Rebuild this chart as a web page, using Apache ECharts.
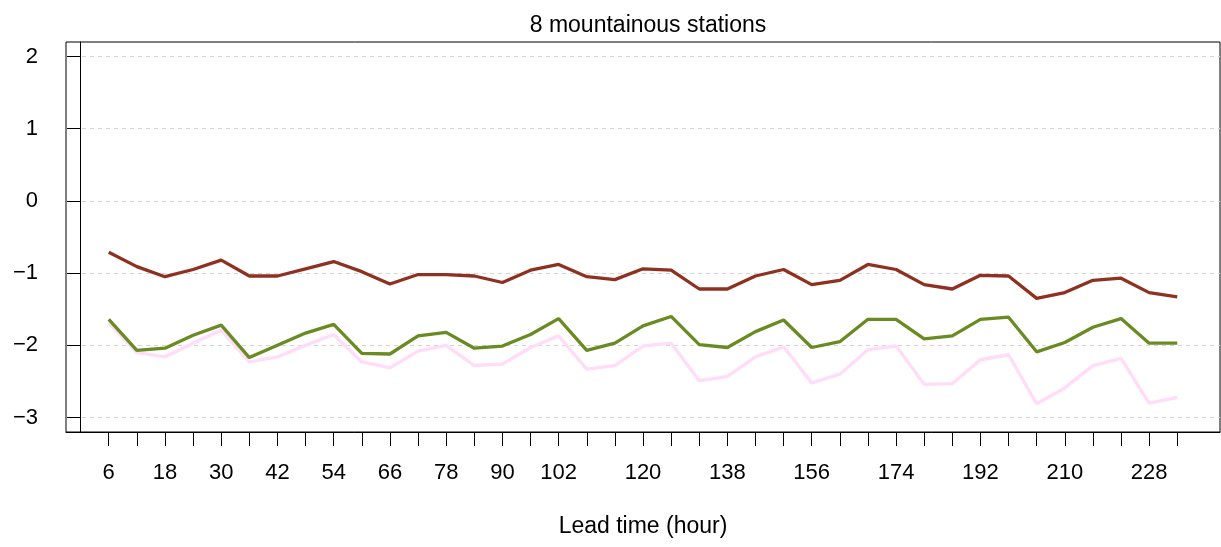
<!DOCTYPE html>
<html>
<head>
<meta charset="utf-8">
<script src="https://cdn.jsdelivr.net/npm/echarts@6/dist/echarts.min.js"></script>
<style>
html,body{margin:0;padding:0;background:#fff;}
#chart{width:1221px;height:547px;}
</style>
</head>
<body>
<div id="chart"></div>
<script>
const hours = [6,12,18,24,30,36,42,48,54,60,66,72,78,84,90,96,102,108,114,120,126,132,138,144,150,156,162,168,174,180,186,192,198,204,210,216,222,228,234];
const xTickLabels = [6,18,30,42,54,66,78,90,102,120,138,156,174,192,210,228];
const yTickLabels = [-3,-2,-1,0,1,2];
const redSeries = [-0.71,-0.91,-1.05,-0.95,-0.82,-1.04,-1.04,-0.94,-0.84,-0.98,-1.15,-1.02,-1.02,-1.04,-1.13,-0.96,-0.88,-1.05,-1.09,-0.94,-0.96,-1.22,-1.22,-1.04,-0.95,-1.16,-1.10,-0.88,-0.95,-1.16,-1.22,-1.03,-1.04,-1.35,-1.27,-1.10,-1.07,-1.27,-1.33];
const greenSeries = [-1.64,-2.07,-2.04,-1.86,-1.72,-2.17,-2.00,-1.83,-1.71,-2.11,-2.12,-1.87,-1.82,-2.04,-2.01,-1.85,-1.63,-2.07,-1.97,-1.73,-1.60,-1.99,-2.03,-1.81,-1.65,-2.03,-1.95,-1.64,-1.64,-1.91,-1.87,-1.64,-1.61,-2.09,-1.96,-1.75,-1.63,-1.97,-1.97];
const pinkSeries = [-1.69,-2.10,-2.16,-1.97,-1.79,-2.23,-2.16,-2.00,-1.85,-2.23,-2.31,-2.08,-2.00,-2.28,-2.26,-2.03,-1.87,-2.33,-2.28,-2.01,-1.97,-2.49,-2.43,-2.16,-2.02,-2.52,-2.40,-2.06,-2.01,-2.54,-2.53,-2.20,-2.13,-2.81,-2.59,-2.28,-2.18,-2.80,-2.72];

const FONT = 'Liberation Sans, Arial, Helvetica, sans-serif';
const pair = arr => hours.map((h, i) => [h, arr[i]]);
const fmtMinus = v => (v < 0 ? '\u2212' + Math.abs(v) : String(v));

const chart = echarts.init(document.getElementById('chart'), null, {renderer: 'canvas'});
chart.setOption({
  animation: false,
  backgroundColor: '#ffffff',
  title: {
    text: '8 mountainous stations',
    left: 643, top: 9, textAlign: 'center',
    textStyle: {fontFamily: FONT, fontSize: 23, fontWeight: 'normal', color: '#000'}
  },
  grid: {
    left: 66, right: 1, top: 42, bottom: 115,
    show: true, borderColor: '#000', borderWidth: 1, backgroundColor: 'transparent'
  },
  xAxis: {
    type: 'value',
    min: -3.12, max: 243.12,
    name: 'Lead time (hour)',
    nameLocation: 'middle', nameGap: 83,
    nameTextStyle: {fontFamily: FONT, fontSize: 23, color: '#000'},
    axisLine: {show: true, onZero: false, lineStyle: {color: '#000', width: 1}},
    axisTick: {show: true, length: 14, customValues: hours, lineStyle: {color: '#000', width: 1}},
    axisLabel: {customValues: xTickLabels, margin: 30, fontFamily: FONT, fontSize: 22, color: '#000'},
    splitLine: {show: false}
  },
  yAxis: {
    type: 'value',
    min: -3.2, max: 2.2,
    axisLine: {show: true, lineStyle: {color: '#000', width: 1}},
    axisTick: {show: true, length: 14, customValues: yTickLabels, lineStyle: {color: '#000', width: 1}},
    axisLabel: {customValues: yTickLabels, margin: 28, fontFamily: FONT, fontSize: 22, color: '#000', formatter: fmtMinus},
    splitLine: {show: true, lineStyle: {color: '#d3d3d3', type: [4, 4], width: 1}}
  },
  series: [
    {type: 'line', data: pair(pinkSeries), symbol: 'none', lineStyle: {color: '#FFDDF9', width: 3.4}, z: 2},
    {type: 'line', data: pair(greenSeries), symbol: 'none', lineStyle: {color: '#698B22', width: 3.3}, z: 3},
    {type: 'line', data: pair(redSeries), symbol: 'none', lineStyle: {color: '#8E3121', width: 3.3}, z: 4}
  ]
});
</script>
</body>
</html>
